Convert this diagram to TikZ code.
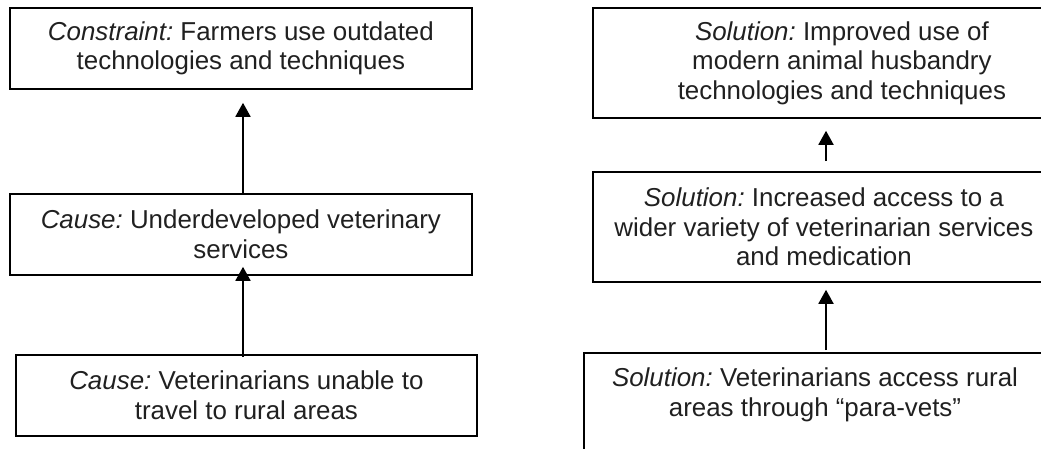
\documentclass[tikz,border=0pt]{standalone}
\usepackage{fontspec}
\setmainfont{Liberation Sans}
\usetikzlibrary{arrows.meta}
\definecolor{ink}{HTML}{202020}
\newcommand{\tag}[1]{{\itshape #1}}
\frenchspacing
\begin{document}
\begin{tikzpicture}[x=1pt,y=-1pt,
  box/.style={draw=black, line width=1.8pt, anchor=north west, inner sep=0pt,
    align=center, text=ink, font=\fontsize{25.9}{29.5}\selectfont},
  txt/.style={align=center, text=ink, inner sep=0pt, font=\fontsize{25.9}{29.5}\selectfont},
  arr/.style={line width=1.8pt, -{Triangle[width=15pt,length=14pt]}}]
\useasboundingbox (0,0) rectangle (1041,448);
\clip (0,0) rectangle (1041,448);

% left column: constraint and its causes
\node[box, minimum width=462, minimum height=81] (lt) at (9,7)
  {\tag{Constraint:} Farmers use outdated\\technologies and techniques};
\node[box, minimum width=462, minimum height=81] (lm) at (9,193)
  {\tag{Cause:} Underdeveloped veterinary\\services};
\node[box, minimum width=461, minimum height=81] (lb) at (15,354)
  {\tag{Cause:} Veterinarians unable to\\travel to rural areas};

% right column: solutions
\node[box, minimum width=498, minimum height=110] (rt) at (592,7)
  {\tag{Solution:} Improved use of\\modern animal husbandry\\technologies and techniques};
\node[box, minimum width=462, minimum height=110] (rm) at (592,171)
  {\tag{Solution:} Increased access to a\\wider variety of veterinarian services\\and medication};
\node[box, minimum width=464, minimum height=140] (rb) at (583,352) {};
\node[txt] (rbt) at (815,395)
  {\tag{Solution:} Veterinarians access rural\\areas through “para-vets”};

% arrow columns
\coordinate (lx) at (243,0);
\coordinate (rx) at (826,0);

\draw[arr] (lm.north -| lx) -- ([yshift=-13pt]lt.south -| lx);
\draw[arr] ([yshift=-3pt]lb.north -| lx) -- ([yshift=9pt]lm.south -| lx);
\draw[arr] ([yshift=10pt]rm.north -| rx) -- ([yshift=-12pt]rt.south -| rx);
\draw[arr] ([yshift=2pt]rb.north -| rx) -- ([yshift=-7pt]rm.south -| rx);
\end{tikzpicture}
\end{document}
